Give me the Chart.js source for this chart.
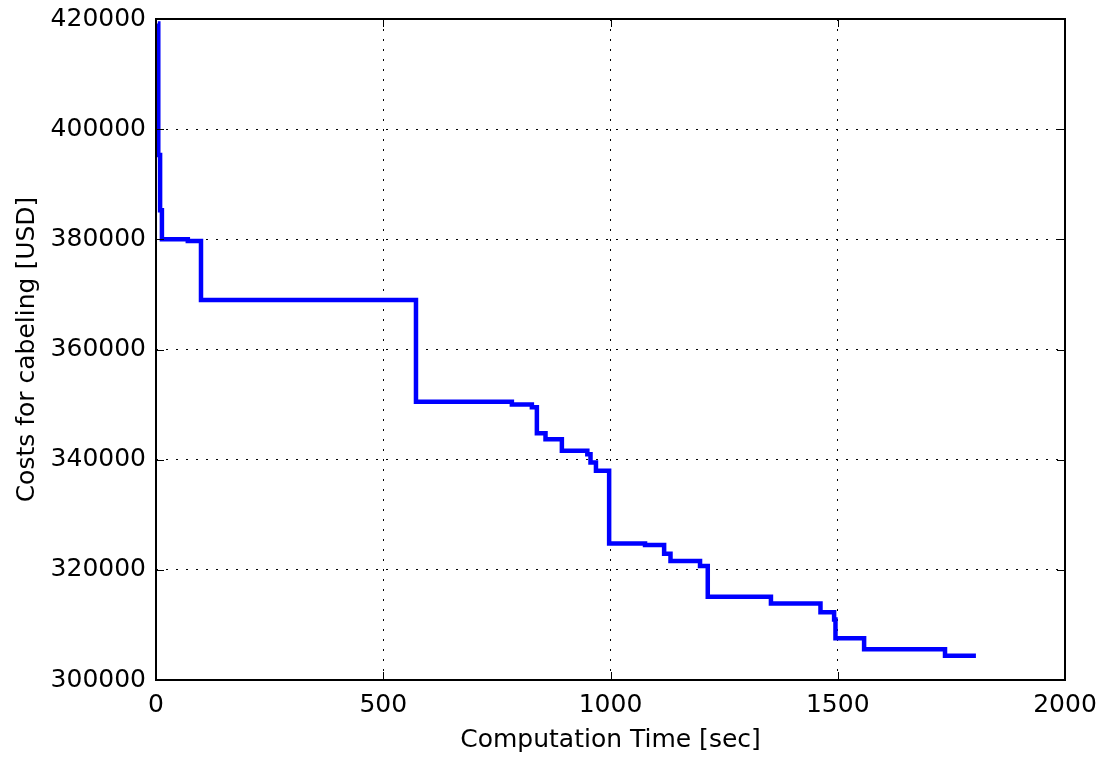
<!DOCTYPE html>
<html>
<head>
<meta charset="utf-8">
<script src="https://cdn.jsdelivr.net/npm/chart.js@4/dist/chart.umd.min.js"></script>
<style>
  html, body { margin: 0; padding: 0; background: #ffffff; }
  #wrap { width: 1103px; height: 757px; position: relative; }
</style>
</head>
<body>
<div id="wrap"><canvas id="costChart" width="1103" height="757"></canvas></div>
<script>
// time of each improvement (sec) and the cabling cost found at that time (USD)
const times = [4, 5, 9, 13, 70, 99, 572, 783, 827, 838, 857, 893, 949, 956, 968, 997,
  1076, 1118, 1132, 1197, 1214, 1353, 1462, 1492, 1495, 1558, 1736, 1804];
const costs = [419200, 395300, 385300, 380000, 379700, 369000, 350500, 350000, 349500, 344800,
  343700, 341600, 341000, 339500, 338000, 324800, 324500, 322900, 321600, 320700, 315100,
  313900, 312300, 311000, 307600, 305600, 304400, 304400];

const xTicks = [0, 500, 1000, 1500, 2000];
const yTicks = [300000, 320000, 340000, 360000, 380000, 400000, 420000];

const FONT = "'DejaVu Sans', sans-serif";

// matplotlib style frame with ticks pointing inward
const framePlugin = {
  id: "frame",
  afterDatasetsDraw(chart) {
    const { ctx, chartArea: a, scales } = chart;
    const len = 8;
    ctx.save();
    ctx.strokeStyle = "#000000";
    ctx.lineWidth = 1;
    ctx.beginPath();
    xTicks.forEach((v) => {
      const px = Math.round(scales.x.getPixelForValue(v)) + 0.5;
      ctx.moveTo(px, a.bottom); ctx.lineTo(px, a.bottom - len);
      ctx.moveTo(px, a.top); ctx.lineTo(px, a.top + len);
    });
    yTicks.forEach((v) => {
      const py = Math.round(scales.y.getPixelForValue(v)) + 0.5;
      ctx.moveTo(a.left, py); ctx.lineTo(a.left + len, py);
      ctx.moveTo(a.right, py); ctx.lineTo(a.right - len, py);
    });
    ctx.stroke();
    ctx.lineWidth = 2;
    ctx.strokeRect(a.left, a.top, a.right - a.left, a.bottom - a.top);
    ctx.restore();
  }
};

const points = times.map((t, i) => ({ x: t, y: costs[i] }));

new Chart(document.getElementById("costChart"), {
  type: "line",
  data: {
    datasets: [{
      data: points,
      borderColor: "#0000ff",
      borderWidth: 4.5,
      pointRadius: 0,
      stepped: "before",
      fill: false
    }]
  },
  options: {
    responsive: false,
    animation: false,
    layout: { padding: { top: 19, right: 38, left: 0, bottom: 0 } },
    plugins: { legend: { display: false }, tooltip: { enabled: false } },
    scales: {
      x: {
        type: "linear",
        min: 0,
        max: 2000,
        afterBuildTicks: (s) => { s.ticks = xTicks.map((v) => ({ value: v })); },
        afterFit: (s) => { s.height = 77; s.paddingLeft = 0; s.paddingRight = 0; },
        border: { display: false, dash: [2, 8] },
        grid: { color: "#000000", lineWidth: 1, drawTicks: false },
        ticks: { color: "#000000", padding: 10, maxRotation: 0, callback: (v) => String(v), font: { family: FONT, size: 25 } },
        title: {
          display: true,
          text: "Computation Time [sec]",
          color: "#000000",
          font: { family: FONT, size: 25 },
          padding: { top: 0, bottom: 2 }
        }
      },
      y: {
        min: 300000,
        max: 420000,
        afterBuildTicks: (s) => { s.ticks = yTicks.map((v) => ({ value: v })); },
        afterFit: (s) => { s.width = 156; s.paddingTop = 0; s.paddingBottom = 0; },
        border: { display: false, dash: [2, 8] },
        grid: { color: "#000000", lineWidth: 1, drawTicks: false },
        ticks: { color: "#000000", padding: 10, callback: (v) => String(v), font: { family: FONT, size: 25 } },
        title: {
          display: true,
          text: "Costs for cabeling [USD]",
          color: "#000000",
          font: { family: FONT, size: 25 },
          padding: { top: 12, bottom: 0 }
        }
      }
    }
  },
  plugins: [framePlugin]
});
</script>
</body>
</html>
